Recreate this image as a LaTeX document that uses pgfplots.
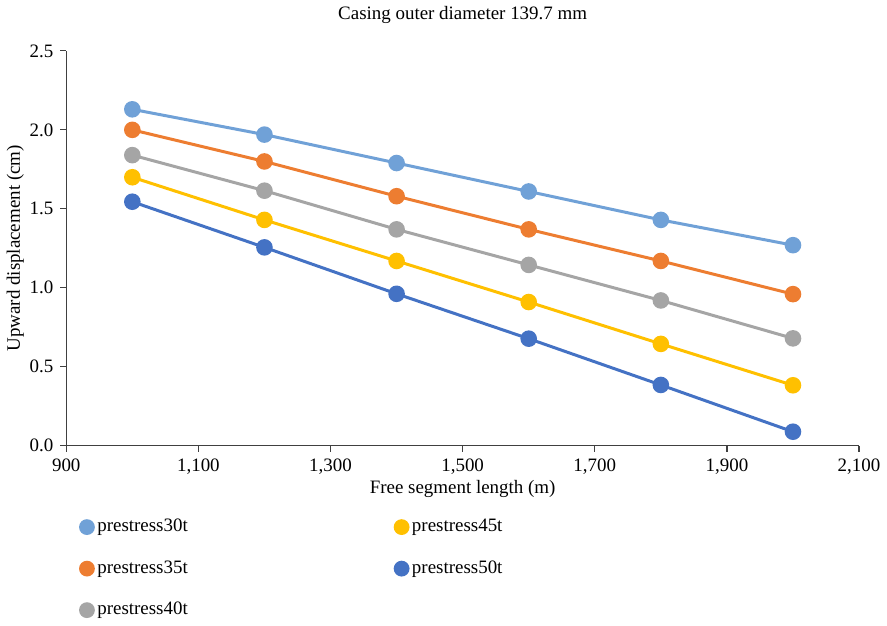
\documentclass[border=0pt]{standalone}
\usepackage{pgfplots}
\pgfplotsset{compat=1.18}
\usepackage{fontspec}
\setmainfont{Liberation Serif}
\definecolor{c30}{HTML}{70A1D7}
\definecolor{c35}{HTML}{ED7D31}
\definecolor{c40}{HTML}{A5A5A5}
\definecolor{c45}{HTML}{FFC000}
\definecolor{c50}{HTML}{4472C4}
\begin{document}
\begin{tikzpicture}
\begin{axis}[
  scale only axis, width=397.5pt, height=198pt,
  xmin=900, xmax=2100, ymin=0, ymax=2.5,
  xtick={900,1100,...,2100}, ytick={0,0.5,...,2.5},
  axis x line*=bottom, axis y line*=left,
  axis line style={draw=black!75, line width=0.6pt},
  tick style={draw=black!75, line width=0.6pt},
  tick align=outside, major tick length=3pt,
  /pgf/number format/assume math mode=true,
  x tick label style={/pgf/number format/1000 sep={,}},
  y tick label style={/pgf/number format/.cd, fixed, fixed zerofill, precision=1},
  font=\fontsize{9.5}{11}\selectfont,
  title={Casing outer diameter 139.7 mm},
  title style={yshift=4pt},
  xlabel={Free segment length (m)},
  ylabel={Upward displacement (cm)},
  xlabel style={yshift=4pt},
  ylabel style={yshift=-4pt},
  legend columns=2,
  legend cell align=left,
  legend style={draw=none, fill=none, at={(rel axis cs:0.01,-0.165)}, anchor=north west,
    /tikz/every even column/.append style={column sep=102pt},
    row sep=9pt, font=\fontsize{9.5}{11}\selectfont},
  every axis plot/.append style={line width=1.5pt, mark=*, mark size=3.4pt},
]
\addplot[c30, forget plot] coordinates {(1000,2.13)(1200,1.97)(1400,1.79)(1600,1.61)(1800,1.43)(2000,1.27)};
\addplot[c35, forget plot] coordinates {(1000,2.00)(1200,1.80)(1400,1.58)(1600,1.37)(1800,1.17)(2000,0.96)};
\addplot[c40, forget plot] coordinates {(1000,1.84)(1200,1.615)(1400,1.37)(1600,1.145)(1800,0.92)(2000,0.68)};
\addplot[c45, forget plot] coordinates {(1000,1.70)(1200,1.43)(1400,1.17)(1600,0.91)(1800,0.645)(2000,0.383)};
\addplot[c50, forget plot] coordinates {(1000,1.545)(1200,1.256)(1400,0.962)(1600,0.678)(1800,0.385)(2000,0.089)};
\addlegendimage{only marks, mark=*, mark size=3.2pt, c30}\addlegendentry{prestress30t}
\addlegendimage{only marks, mark=*, mark size=3.2pt, c45}\addlegendentry{prestress45t}
\addlegendimage{only marks, mark=*, mark size=3.2pt, c35}\addlegendentry{prestress35t}
\addlegendimage{only marks, mark=*, mark size=3.2pt, c50}\addlegendentry{prestress50t}
\addlegendimage{only marks, mark=*, mark size=3.2pt, c40}\addlegendentry{prestress40t}
\end{axis}
\end{tikzpicture}
\end{document}
